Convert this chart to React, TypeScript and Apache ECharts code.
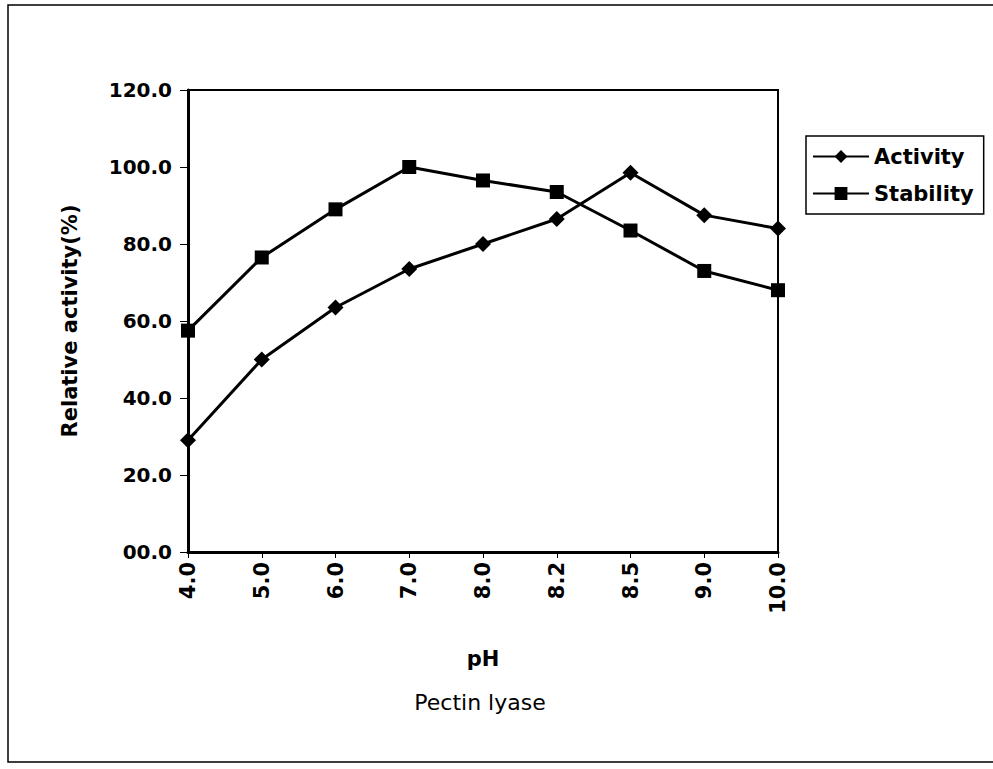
import React, { useEffect, useRef } from "react";
import * as echarts from "echarts";

const categories = ["4.0", "5.0", "6.0", "7.0", "8.0", "8.2", "8.5", "9.0", "10.0"];
const activity = [29, 50, 63.5, 73.5, 80, 86.5, 98.5, 87.5, 84];
const stability = [57.5, 76.5, 89, 100, 96.5, 93.5, 83.5, 73, 68];

const FONT = "'DejaVu Sans', 'Liberation Sans', Arial, sans-serif";

export default function App() {
  const ref = useRef<HTMLDivElement>(null);
  useEffect(() => {
    if (!ref.current) return;
    const chart = echarts.init(ref.current, undefined, { renderer: "svg" });
    chart.setOption({
      animation: false,
      backgroundColor: "#ffffff",
      textStyle: { fontFamily: FONT },
      grid: {
        left: 188,
        top: 90,
        right: 215,
        bottom: 217,
        show: true,
        borderColor: "#000",
        borderWidth: 2,
      },
      legend: {
        left: 806,
        top: 136,
        orient: "vertical",
        itemWidth: 56,
        itemHeight: 16,
        itemGap: 16,
        padding: [10, 10, 10, 6],
        borderColor: "#000",
        borderWidth: 1.5,
        textStyle: { fontFamily: FONT, fontWeight: "bold", fontSize: 21, color: "#000" },
        data: ["Activity", "Stability"],
      },
      xAxis: {
        type: "category",
        data: categories,
        boundaryGap: false,
        name: "pH",
        nameLocation: "middle",
        nameGap: 96,
        nameTextStyle: { fontFamily: FONT, fontWeight: "bold", fontSize: 21, color: "#000" },
        axisLine: { lineStyle: { color: "#000", width: 3 } },
        axisTick: { show: true, length: 6, lineStyle: { color: "#000", width: 1 } },
        axisLabel: {
          rotate: 90,
          margin: 10,
          fontFamily: FONT,
          fontWeight: "bold",
          fontSize: 21,
          color: "#000",
        },
        splitLine: { show: false },
      },
      yAxis: {
        type: "value",
        min: 0,
        max: 120,
        interval: 20,
        name: "Relative activity(%)",
        nameLocation: "middle",
        nameGap: 108,
        nameRotate: 90,
        nameTextStyle: { fontFamily: FONT, fontWeight: "bold", fontSize: 21, color: "#000" },
        axisLine: { show: true, lineStyle: { color: "#000", width: 3 } },
        axisTick: { show: true, length: 8, lineStyle: { color: "#000", width: 1 } },
        axisLabel: {
          margin: 16,
          fontFamily: FONT,
          fontWeight: "bold",
          fontSize: 20,
          color: "#000",
          formatter: (v: number) => (v === 0 ? "00.0" : v.toFixed(1)),
        },
        splitLine: { show: false },
      },
      series: [
        {
          name: "Activity",
          type: "line",
          data: activity,
          symbol: "diamond",
          symbolSize: 16,
          lineStyle: { color: "#000", width: 3 },
          itemStyle: { color: "#000" },
        },
        {
          name: "Stability",
          type: "line",
          data: stability,
          symbol: "rect",
          symbolSize: 14,
          lineStyle: { color: "#000", width: 3 },
          itemStyle: { color: "#000" },
        },
      ],
      graphic: [
        {
          type: "rect",
          shape: { x: 8, y: 5, width: 1000, height: 757 },
          style: { fill: "none", stroke: "#000", lineWidth: 1.5 },
          silent: true,
        },
        {
          type: "text",
          x: 480,
          y: 702,
          style: {
            text: "Pectin lyase",
            fontFamily: FONT,
            fontSize: 22,
            fill: "#000",
            align: "center",
            verticalAlign: "middle",
          },
        },
      ],
    });
    return () => chart.dispose();
  }, []);
  return (
    <div
      ref={ref}
      style={{ position: "fixed", left: 0, top: 0, width: 993, height: 769 }}
    />
  );
}
